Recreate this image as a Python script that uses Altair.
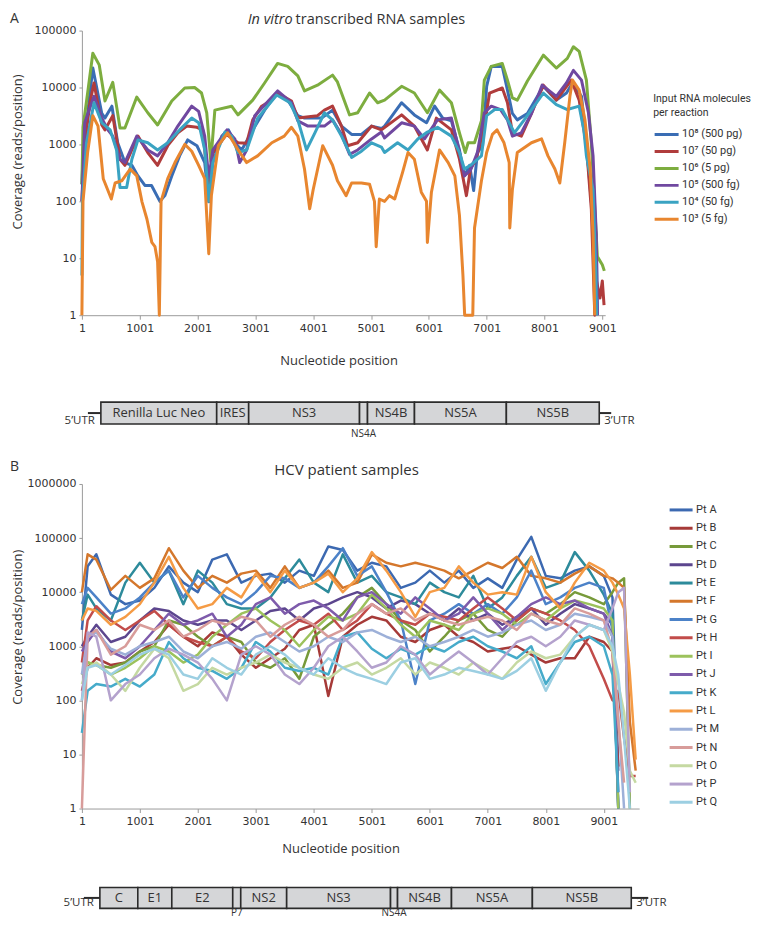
import altair as alt
import pandas as pd

FONT = "Open Sans"
LEG_FONT = "Roboto"
NUM_FONT = "DejaVu Sans"
TXT = "#333333"
AXC = "#9b9b9b"

# ---------------- Panel A: in vitro transcribed RNA ----------------
A_SERIES = ["10⁸ (500 pg)", "10⁷ (50 pg)", "10⁶ (5 pg)", "10⁵ (500 fg)", "10⁴ (50 fg)", "10³ (5 fg)"]
A_COLORS = ["#3a6db4", "#b03c3c", "#7dad3f", "#7048a0", "#3aa3c2", "#e8862f"]

A1_POS = [1, 30, 100, 190, 345, 400, 520, 620, 745, 865, 970, 1090, 1205, 1350, 1435, 1555, 1690, 1830, 1990, 2125,
          2195, 2265, 2420, 2535, 2645, 2765, 2955, 3160, 3370, 3560, 3735, 3850, 4145, 4335, 4490, 4665, 4835, 5010, 5180, 5235,
          5530, 5750, 5960, 6100, 6240, 6390, 6530, 6615, 6705, 6775, 6840, 6930, 7000, 7080, 7270, 7360, 7445, 7530, 7705, 7980,
          8205, 8380, 8485, 8640, 8725, 8810, 8895, 8915]
A1_VAL = [200, 1000, 3500, 22000, 3500, 2900, 4700, 1070, 480, 430, 280, 190, 190, 100, 126, 280, 630, 1200, 950, 480,
          98, 480, 1400, 1800, 1070, 800, 1800, 4000, 8000, 6000, 3200, 2900, 2900, 4000, 2100, 1500, 1500, 2100, 1900, 2100,
          5400, 3300, 2400, 4700, 2900, 2600, 800, 280, 430, 155, 720, 950, 10500, 23500, 23500, 9000, 3500, 2700, 3500, 10500,
          6000, 8000, 12000, 7000, 1070, 98, 26, 1]

A2_POS = [1, 50, 140, 210, 345, 400, 535, 660, 745, 970, 1140, 1310, 1485, 1660, 1815, 1990, 2090, 2195, 2265, 2500,
          2700, 2850, 2955, 3110, 3285, 3385, 3625, 3735, 4075, 4195, 4335, 4490, 4595, 4770, 5010, 5180, 5530, 5750, 5975, 6130,
          6390, 6530, 6650, 6720, 6820, 6960, 7050, 7270, 7360, 7445, 7600, 7775, 7980, 8205, 8465, 8600, 8725, 8810, 8870, 8900,
          8960, 9000, 9030]
A2_VAL = [100, 1000, 5400, 12000, 2200, 1800, 3200, 550, 430, 1400, 720, 430, 950, 1600, 2100, 2000, 1800, 160, 700, 1500,
          1070, 1050, 2700, 4700, 6000, 8000, 5800, 2900, 3200, 4000, 4700, 2100, 950, 1070, 2100, 1800, 3300, 2100, 800, 2900,
          1800, 550, 126, 370, 550, 2100, 8000, 9800, 5400, 1600, 1400, 3500, 11000, 6000, 13500, 6000, 950, 74, 1, 4,
          2, 4, 1.5]

A3_POS = [1, 20, 100, 190, 300, 400, 535, 660, 745, 950, 1140, 1310, 1555, 1780, 1950, 2070, 2160, 2230, 2300, 2590,
          2700, 2955, 3160, 3385, 3560, 3735, 3850, 4075, 4335, 4420, 4630, 4770, 4975, 5115, 5235, 5530, 5750, 5975, 6185, 6390,
          6530, 6630, 6680, 6790, 6910, 6960, 7080, 7270, 7360, 7445, 7530, 7705, 7980, 8205, 8395, 8500, 8600, 8725, 8810, 8880,
          8915, 9000, 9035]
A3_VAL = [200, 2000, 8000, 40000, 25000, 5800, 12300, 1950, 1950, 6800, 3600, 2200, 5800, 9800, 10000, 8000, 3600, 500, 4000, 4700,
          3300, 6000, 12000, 26500, 23500, 16000, 8700, 11000, 16500, 12500, 3300, 3600, 8000, 5400, 6000, 10500, 8000, 3600, 9000, 5400,
          1600, 720, 1070, 1070, 2600, 13500, 23500, 26500, 13500, 6600, 6000, 13000, 37000, 22000, 32500, 52000, 43000, 13500, 1070, 49,
          10.7, 7.7, 6]

A4_POS = [1, 50, 210, 345, 450, 535, 660, 745, 950, 1140, 1310, 1485, 1660, 1900, 2020, 2125, 2195, 2265, 2510, 2645,
          2730, 2850, 2990, 3385, 3625, 3735, 3910, 4195, 4335, 4490, 4630, 4770, 5010, 5180, 5235, 5530, 5750, 5925, 6150, 6390,
          6530, 6615, 6720, 6840, 6960, 7080, 7240, 7360, 7445, 7600, 7775, 7960, 8205, 8380, 8500, 8640, 8760, 8840, 8895, 8915]
A4_VAL = [100, 2400, 7000, 2900, 1800, 1400, 550, 480, 1400, 800, 630, 1070, 2100, 4700, 3800, 1400, 250, 800, 1800, 1250,
          480, 800, 3200, 8700, 5400, 2600, 2100, 2100, 2700, 1500, 670, 800, 1250, 1650, 1300, 2400, 2100, 1250, 2700, 2900,
          720, 280, 350, 720, 3600, 4700, 4100, 2700, 1400, 1600, 3500, 11000, 7000, 12000, 20000, 13500, 3600, 630, 26, 1]

A5_POS = [1, 10, 80, 210, 345, 490, 600, 660, 775, 865, 970, 1140, 1310, 1485, 1690, 1900, 2020, 2125, 2195, 2265,
          2475, 2590, 2700, 2850, 3040, 3370, 3600, 3735, 3885, 4030, 4195, 4335, 4490, 4665, 4835, 5010, 5180, 5235, 5460, 5640,
          5810, 5975, 6150, 6390, 6530, 6615, 6720, 6910, 7000, 7140, 7270, 7390, 7480, 7650, 7980, 8205, 8395, 8600, 8680, 8725,
          8840, 8890, 8900]
A5_VAL = [5, 100, 1070, 5400, 2400, 1800, 800, 175, 175, 550, 1200, 1070, 800, 1070, 1800, 2900, 2400, 800, 100, 480,
          1650, 1400, 720, 800, 2900, 7400, 5400, 2700, 800, 1600, 3600, 2700, 1400, 590, 760, 1070, 900, 720, 1070, 800,
          1250, 1650, 2000, 1400, 720, 370, 430, 630, 3200, 4100, 4100, 2400, 1600, 2700, 8000, 5000, 4100, 4700, 1800, 630,
          160, 5, 1]

A6_POS = [1, 20, 100, 190, 280, 370, 400, 510, 575, 690, 835, 950, 1040, 1125, 1210, 1265, 1310, 1340, 1370, 1485,
          1610, 1780, 1900, 2020, 2125, 2195, 2240, 2360, 2520, 2700, 2850, 3040, 3285, 3500, 3625, 3735, 3850, 3940, 4000, 4165,
          4335, 4420, 4570, 4665, 4835, 4975, 5060, 5090, 5145, 5235, 5320, 5410, 5545, 5640, 5750, 5870, 5960, 5975, 6045, 6185,
          6335, 6450, 6530, 6590, 6620, 6760, 6790, 6910, 7000, 7100, 7180, 7300, 7390, 7400, 7445, 7530, 7775, 7950, 8060, 8180,
          8265, 8350, 8440, 8485, 8600, 8700, 8790, 8840, 8870]
A6_VAL = [1, 100, 720, 3200, 2100, 250, 210, 110, 210, 230, 370, 280, 98, 49, 19, 16, 8.7, 1, 100, 250,
          480, 1000, 760, 430, 250, 12, 126, 950, 1600, 810, 480, 630, 1070, 1400, 2000, 1400, 370, 74, 160, 950,
          430, 230, 126, 210, 210, 200, 100, 16, 110, 100, 126, 110, 320, 720, 550, 145, 100, 19, 145, 800,
          480, 280, 56, 5, 1, 1, 34, 230, 720, 1500, 1800, 1070, 480, 34, 160, 720, 1070, 1250, 630, 370,
          210, 1070, 7000, 13500, 9000, 2700, 370, 26, 1]

A_POS = [A1_POS, A2_POS, A3_POS, A4_POS, A5_POS, A6_POS]
A_VAL = [A1_VAL, A2_VAL, A3_VAL, A4_VAL, A5_VAL, A6_VAL]

# ---------------- Panel B: HCV patient samples ----------------
B_SERIES = ["Pt A", "Pt B", "Pt C", "Pt D", "Pt E", "Pt F", "Pt G", "Pt H", "Pt I",
            "Pt J", "Pt K", "Pt L", "Pt M", "Pt N", "Pt O", "Pt P", "Pt Q"]
B_COLORS = ["#3c69b1", "#a63a38", "#779a3a", "#5c468e", "#2d8b9b", "#d4772c", "#4c82c8", "#c24c4a", "#9cc25c",
            "#7e5bab", "#46abca", "#f59b45", "#9db0d8", "#d89c9a", "#c5d9a2", "#b4a2cd", "#9ccfe2"]
B_POS = [1, 100, 250, 500, 750, 1000, 1250, 1500, 1750, 2000, 2250, 2500, 2750, 3000, 3250, 3500, 3750, 4000, 4250, 4500,
         4750, 5000, 5250, 5500, 5750, 6000, 6250, 6500, 6750, 7000, 7250, 7500, 7750, 8000, 8250, 8500, 8750, 9000, 9150, 9250,
         9350, 9450, 9550]
N = None
PT_A = [2000, 30000, 50000, 9000, 6000, 7000, 12000, 30000, 15000, 10000, 40000, 50000, 15000, 20000, 22000, 15000, 25000, 20000, 70000, 60000,
        25000, 35000, 30000, 12000, 15000, 25000, 15000, 25000, 12000, 18000, 12000, 40000, 105000, 20000, 18000, 25000, 30000, 20000, 8000, 5, N, N, N]
PT_B = [150, 400, 600, 450, 500, 800, 1200, 2500, 1500, 1000, 1800, 1500, 700, 400, 600, 900, 2000, 2500, 120, 1500,
        2500, 3500, 3000, 1500, 1200, 2000, 2500, 1500, 1200, 800, 900, 1000, 700, 500, 600, 600, 1500, 1200, 800, 6, N, N, N]
PT_C = [300, 500, 450, 400, 500, 800, 1000, 3000, 2500, 1500, 1000, 1500, 1200, 500, 400, 600, 250, 1500, 2500, 4000,
        8000, 12000, 6000, 3000, 2000, 800, 1500, 3000, 4000, 2000, 1500, 3000, 5000, 4000, 6000, 10000, 8000, 6000, 10000, 15000, 18000, 1, N]
PT_D = [1000, 1500, 2500, 1200, 1500, 3000, 5000, 4500, 3000, 2500, 3000, 3000, 2000, 3000, 4500, 5000, 3000, 5000, 6000, 8000,
        10000, 8000, 5000, 7000, 6000, 4000, 3000, 5000, 3000, 4000, 2500, 3500, 5000, 2500, 4000, 6000, 5000, 4000, 2500, 1, N, N, N]
PT_E = [3000, 9000, 5000, 3000, 15000, 35000, 15000, 25000, 6000, 25000, 15000, 6000, 5000, 5000, 8000, 18000, 40000, 15000, 10000, 50000,
        15000, 20000, 10000, 8000, 6000, 15000, 10000, 8000, 20000, 5000, 8000, 20000, 45000, 12000, 15000, 55000, 25000, 9000, 4000, 1, N, N, N]
PT_F = [10000, 50000, 40000, 11000, 20000, 12000, 18000, 65000, 25000, 12000, 20000, 15000, 22000, 25000, 12000, 30000, 12000, 15000, 25000, 12000,
        15000, 50000, 35000, 30000, 35000, 30000, 25000, 18000, 25000, 35000, 28000, 45000, 20000, 18000, 15000, 22000, 30000, 20000, 18000, 15000, 12000, 40, 5]
PT_G = [6000, 12000, 8000, 4000, 5000, 8000, 15000, 25000, 8000, 20000, 12000, 8000, 6000, 10000, 20000, 18000, 12000, 15000, 30000, 65000,
        20000, 30000, 10000, 3000, 200, 3000, 4000, 6000, 4000, 6000, 4000, 8000, 25000, 6000, 8000, 12000, 15000, 12000, 2000, 1, N, N, N]
PT_H = [500, 3000, 5500, 3000, 2000, 3000, 4500, 2500, 1500, 1200, 1000, 1500, 800, 600, 1200, 2000, 3000, 2500, 4000, 2000,
        3000, 6000, 4000, 3000, 2500, 4000, 3500, 3000, 5000, 8000, 5000, 3000, 5000, 4000, 3000, 2000, 1000, 250, 100, 150, 20, 4, 4]
PT_I = [300, 500, 450, 300, 400, 600, 1000, 800, 500, 700, 1500, 2500, 4000, 5000, 3000, 2000, 1000, 2000, 3500, 3000,
        4000, 9000, 5000, 2500, 1500, 3000, 2500, 2000, 4000, 5000, 4000, 2500, 4000, 3000, 5000, 7000, 6000, 5000, 3000, 1, N, N, N]
PT_J = [800, 1200, 2000, 800, 600, 1000, 2000, 4000, 2500, 3000, 4000, 1500, 2500, 6000, 8000, 4000, 6000, 7000, 5000, 3000,
        8000, 10000, 6000, 4000, 8000, 5000, 3000, 4000, 8000, 4000, 2000, 3500, 6000, 8000, 6000, 7000, 5000, 4000, 1500, 2, N, N, N]
PT_K = [25, 150, 200, 180, 250, 180, 300, 1200, 600, 400, 350, 250, 400, 1200, 800, 400, 350, 400, 300, 1500,
        1800, 900, 600, 900, 700, 1000, 800, 1200, 1500, 1000, 800, 600, 1000, 200, 500, 1200, 1500, 1000, 300, 2, N, N, N]
PT_L = [3000, 5000, 4500, 2500, 3500, 6000, 15000, 45000, 12000, 5000, 6000, 12000, 8000, 22000, 10000, 25000, 12000, 15000, 22000, 10000,
        18000, 55000, 25000, 10000, 3500, 10000, 12000, 30000, 15000, 9000, 10000, 9000, 45000, 10000, 5000, 15000, 35000, 25000, 15000, 9000, 5000, 300, 8]
PT_M = [300, 1500, 1800, 900, 700, 1000, 1200, 1500, 800, 600, 1000, 1200, 900, 1500, 1800, 1200, 800, 1000, 1500, 1200,
        1800, 2000, 1500, 1200, 1500, 1000, 1200, 1500, 2000, 1500, 1800, 2500, 3000, 2000, 2500, 4000, 3500, 3000, 1500, 50, 1, N, N]
PT_N = [1, 1500, 2000, 700, 1000, 2500, 2000, 3000, 1500, 2000, 3000, 2500, 3500, 3000, 1500, 2500, 3500, 2500, 1500, 2000,
        4000, 6000, 4000, 5000, 3000, 4000, 3000, 2500, 3000, 3500, 3000, 2000, 4000, 3000, 2500, 5000, 4000, 3000, 800, 40, 3, N, N]
PT_O = [200, 400, 500, 300, 150, 400, 900, 600, 150, 200, 400, 300, 400, 500, 700, 500, 400, 300, 250, 400,
        500, 300, 400, 600, 300, 500, 400, 300, 500, 350, 250, 500, 800, 600, 700, 1500, 2500, 2000, 800, 200, 60, 5, 3]
PT_P = [100, 1800, 1500, 100, 200, 300, 600, 900, 700, 500, 250, 100, 700, 1000, 700, 300, 200, 400, 1000, 1500,
        800, 400, 500, 1000, 700, 300, 500, 800, 500, 300, 600, 1200, 1500, 1000, 1500, 3000, 2500, 2000, 5000, 10000, 12000, 2, N]
PT_Q = [100, 400, 450, 300, 450, 700, 900, 700, 300, 250, 600, 400, 300, 700, 1000, 700, 400, 300, 600, 400,
        300, 250, 200, 500, 600, 250, 300, 400, 350, 300, 250, 350, 600, 150, 500, 1500, 2500, 2000, 1000, 300, 20, 1, N]
B_VAL = [PT_A, PT_B, PT_C, PT_D, PT_E, PT_F, PT_G, PT_H, PT_I, PT_J, PT_K, PT_L, PT_M, PT_N, PT_O, PT_P, PT_Q]

X_TICKS = [1, 1001, 2001, 3001, 4001, 5001, 6001, 7001, 8001, 9001]
A_Y_TICKS = [1, 10, 100, 1000, 10000, 100000]
B_Y_TICKS = [1, 10, 100, 1000, 10000, 100000, 1000000]

# genome maps (nucleotide coordinates on each panel's axis)
A_GENES = ["Renilla Luc Neo", "IRES", "NS3", "NS4A", "NS4B", "NS5A", "NS5B"]
A_GENE_START = [329, 2332, 2885, 4802, 4940, 5752, 7341]
A_GENE_END = [2332, 2885, 4802, 4940, 5752, 7341, 8947]
A_GENE_INSIDE = [True, True, True, False, True, True, True]
A_UTR_START = [105, 8947]
A_UTR_END = [329, 9154]

B_GENES = ["C", "E1", "E2", "P7", "NS2", "NS3", "NS4A", "NS4B", "NS5A", "NS5B"]
B_GENE_START = [311, 965, 1551, 2602, 2740, 3532, 5323, 5444, 6374, 7769]
B_GENE_END = [965, 1551, 2602, 2740, 3532, 5323, 5444, 6374, 7769, 9474]
B_GENE_INSIDE = [True, True, True, False, True, True, False, True, True, True]
B_UTR_START = [35, 9474]
B_UTR_END = [311, 9767]


def long_table(names, pos_lists, val_lists):
    rows = []
    for name, pos, val in zip(names, pos_lists, val_lists):
        assert len(pos) == len(val), name
        for k, (p, v) in enumerate(zip(pos, val)):
            if v is not None:
                rows.append({"series": name, "nt": p, "cov": v, "k": k})
    return pd.DataFrame(rows)


df_a = long_table(A_SERIES, A_POS, A_VAL)
df_b = long_table(B_SERIES, [B_POS] * len(B_SERIES), B_VAL)

XS_A = alt.Scale(domain=[1, 9050], nice=False, zero=False)
XS_B = alt.Scale(domain=[1, 9610], nice=False, zero=False)


def x_axis(title_x, title_pad):
    return alt.Axis(values=X_TICKS, format="d", title="Nucleotide position", titleX=title_x, titlePadding=title_pad,
                    grid=False, labelFlush=False, labelFont=NUM_FONT, labelFontSize=11, labelColor=TXT, labelPadding=3,
                    tickSize=4, tickColor=AXC, domainColor=AXC, titleFont=FONT, titleFontSize=13,
                    titleFontWeight="normal", titleColor=TXT)


def y_axis(values, title_y):
    return alt.Axis(values=values, format="d", title="Coverage (reads/position)", grid=False, labelFlush=False,
                    labelFont=NUM_FONT, labelFontSize=11, labelColor=TXT, labelPadding=3, tickSize=3, tickColor=AXC,
                    domainColor=AXC, titleFont=FONT, titleFontSize=13, titleFontWeight="normal", titleColor=TXT,
                    titleX=-57, titleY=title_y)


AX_A = x_axis(257, 21)
AX_B = x_axis(259, 16)


def text_layer(t, x, y, size, style="normal", align="left"):
    return alt.Chart(pd.DataFrame({"t": [t]})).mark_text(
        font=FONT, fontSize=size, fontStyle=style, align=align, baseline="middle", color=TXT
    ).encode(text="t:N", x=alt.value(x), y=alt.value(y))


def genome_layers(xs, ax, genes, starts, ends, inside, utr_s, utr_e, y_top, y_bot, y_utr, y_below):
    g = pd.DataFrame({"gene": genes, "start": starts, "end": ends, "inside": inside})
    g["mid"] = (g["start"] + g["end"]) / 2
    u = pd.DataFrame({"s": utr_s, "e": utr_e})
    ymid = (y_top + y_bot) / 2
    rule = alt.Chart(u).mark_rule(color="#2b2b2b", strokeWidth=2).encode(
        x=alt.X("s:Q", scale=xs, axis=ax), x2="e:Q", y=alt.value(ymid))
    rect = alt.Chart(g).mark_rect(fill="#d5d6d8", stroke="#2b2b2b", strokeWidth=1.6).encode(
        x=alt.X("start:Q", scale=xs, axis=ax), x2="end:Q", y=alt.value(y_top), y2=alt.value(y_bot))
    lab_in = alt.Chart(g[g["inside"]]).mark_text(font=FONT, fontSize=13, color=TXT, baseline="middle").encode(
        x=alt.X("mid:Q", scale=xs, axis=ax), y=alt.value(ymid), text="gene:N")
    lab_out = alt.Chart(g[~g["inside"]]).mark_text(font=FONT, fontSize=10, color=TXT, baseline="middle").encode(
        x=alt.X("mid:Q", scale=xs, axis=ax), y=alt.value(y_below), text="gene:N")
    utr5 = alt.Chart(pd.DataFrame({"p": [starts[0]], "t": ["5’UTR"]})).mark_text(
        font=FONT, fontSize=11.5, color=TXT, align="right", dx=-6, baseline="middle").encode(
        x=alt.X("p:Q", scale=xs, axis=ax), y=alt.value(y_utr), text="t:N")
    utr3 = alt.Chart(pd.DataFrame({"p": [ends[-1]], "t": ["3’UTR"]})).mark_text(
        font=FONT, fontSize=11.5, color=TXT, align="left", dx=5, baseline="middle").encode(
        x=alt.X("p:Q", scale=xs, axis=ax), y=alt.value(y_utr), text="t:N")
    return [rule, rect, lab_in, lab_out, utr5, utr3]


legend_a = alt.Legend(orient="none", legendX=572, legendY=64, direction="vertical",
                      title=["Input RNA molecules", "per reaction"], titleFont=LEG_FONT, titleFontSize=10.5,
                      titleFontWeight="normal", titleColor=TXT, titleLineHeight=14, titlePadding=8,
                      labelFont=LEG_FONT, labelFontSize=11, labelColor=TXT, labelOffset=2, labelLimit=200, titleLimit=200,
                      symbolType="stroke", symbolSize=576, symbolStrokeWidth=3, clipHeight=15, rowPadding=2, padding=0)

legend_b = alt.Legend(orient="none", legendX=587, legendY=18, direction="vertical", title=None,
                      labelFont=LEG_FONT, labelFontSize=11, labelColor=TXT, labelOffset=2,
                      symbolType="stroke", symbolSize=529, symbolStrokeWidth=3, clipHeight=16, rowPadding=2.3, padding=0)

lines_a = alt.Chart(df_a).mark_line(strokeWidth=3, strokeJoin="round").encode(
    x=alt.X("nt:Q", scale=XS_A, axis=AX_A),
    y=alt.Y("cov:Q", scale=alt.Scale(type="log", domain=[1, 100000], nice=False), axis=y_axis(A_Y_TICKS, 121)),
    color=alt.Color("series:N", scale=alt.Scale(domain=A_SERIES, range=A_COLORS), legend=legend_a),
    order=alt.Order("k:Q"),
)

panel_a = alt.layer(
    lines_a,
    text_layer("A", -72, -12, 14),
    text_layer("In vitro", 211, -11, 14.5, style="italic", align="right"),
    text_layer("transcribed RNA samples", 214, -11, 14.5),
    *genome_layers(XS_A, AX_A, A_GENES, A_GENE_START, A_GENE_END, A_GENE_INSIDE, A_UTR_START, A_UTR_END,
                   372, 394, 391, 404),
).properties(width=524, height=285)

lines_b = alt.Chart(df_b).mark_line(strokeWidth=2.5, strokeJoin="round").encode(
    x=alt.X("nt:Q", scale=XS_B, axis=AX_B),
    y=alt.Y("cov:Q", scale=alt.Scale(type="log", domain=[1, 1000000], nice=False), axis=y_axis(B_Y_TICKS, 143)),
    color=alt.Color("series:N", scale=alt.Scale(domain=B_SERIES, range=B_COLORS), legend=legend_b),
    order=alt.Order("k:Q"),
)

panel_b = alt.layer(
    lines_b,
    text_layer("B", -72, -17, 14),
    text_layer("HCV patient samples", 265, -13.5, 15, align="center"),
    *genome_layers(XS_B, AX_B, B_GENES, B_GENE_START, B_GENE_END, B_GENE_INSIDE, B_UTR_START, B_UTR_END,
                   404, 425, 420, 430),
).properties(width=558, height=325)

chart = alt.vconcat(panel_a, panel_b, spacing=21).resolve_scale(color="independent").properties(
    padding={"top": 3, "left": 2, "right": 0, "bottom": 0}, background="white"
).configure_view(stroke=None)

chart.save("out.html", embed_options={"renderer": "svg", "actions": False})
